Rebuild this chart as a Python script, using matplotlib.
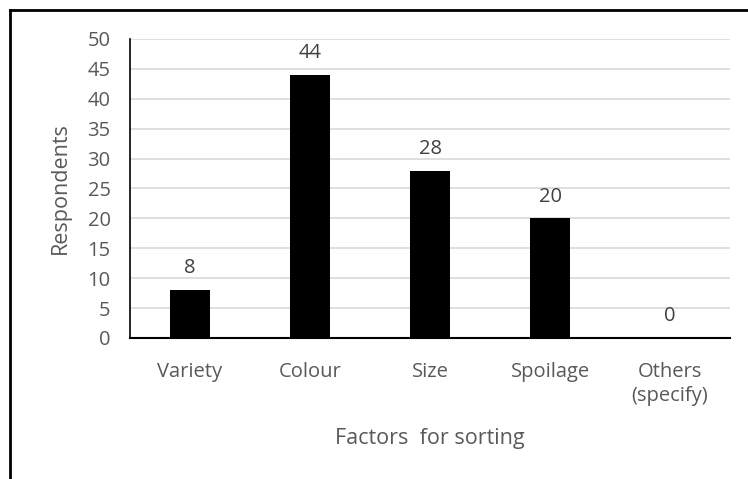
import matplotlib.pyplot as plt
from matplotlib.lines import Line2D

plt.rcParams['font.family'] = ['Open Sans', 'DejaVu Sans']

categories = ['Variety', 'Colour', 'Size', 'Spoilage', 'Others\n(specify)']
respondents = [8, 44, 28, 20, 0]
y_ticks = list(range(0, 55, 5))

fig = plt.figure(figsize=(7.48, 4.79), dpi=100)
ax = fig.add_axes([0.1738, 0.2944, 0.8022, 0.6242])

x = range(len(categories))
bars = ax.bar(x, respondents, width=0.33, color='black', zorder=3)
for b, v in zip(bars, respondents):
    ax.annotate(str(v), (b.get_x() + b.get_width() / 2, v), xytext=(0, 8.5),
                textcoords='offset points', ha='center', va='bottom',
                fontsize=14.5, color='#404040')

ax.set_xlim(-0.5, len(categories) - 0.5)
ax.set_ylim(0, 50)
ax.set_yticks(y_ticks)
ax.set_xticks(list(x))
ax.set_xticklabels(categories, linespacing=1.28)
ax.tick_params(axis='both', length=0, labelsize=14.5, labelcolor='#595959')
ax.tick_params(axis='x', pad=17)
ax.tick_params(axis='y', pad=14)
ax.grid(axis='y', color='#d9d9d9', linewidth=1.2, zorder=0)

for side in ('top', 'right'):
    ax.spines[side].set_visible(False)
ax.spines['left'].set_linewidth(1.2)
ax.spines['bottom'].set_linewidth(1.5)

ax.set_ylabel('Respondents', fontsize=15.5, color='#595959', labelpad=12)
ax.set_xlabel('Factors  for sorting', fontsize=15.5, color='#595959', labelpad=16)

# outer frame (top and left edges)
fig.add_artist(Line2D([9.5 / 748, 9.5 / 748], [0, 1 - 9.5 / 479], color='black', lw=2))
fig.add_artist(Line2D([9.5 / 748, 1], [1 - 9.5 / 479, 1 - 9.5 / 479], color='black', lw=2))

fig.savefig('out.png', dpi=100)
